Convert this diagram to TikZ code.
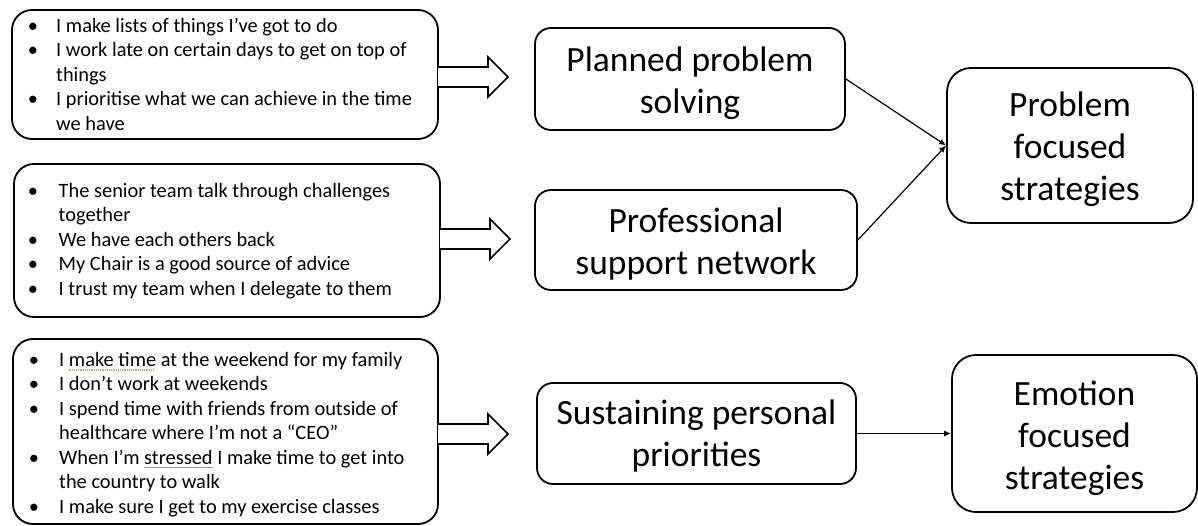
\documentclass[tikz,border=0pt]{standalone}
\usepackage{fontspec}
\setmainfont{Carlito}
\usetikzlibrary{arrows.meta,calc}
\definecolor{spellgold}{RGB}{205,165,80}
\definecolor{spellblue}{RGB}{120,150,225}
\newcommand\mysolidul[2]{\setbox0=\hbox{#2}\rlap{\color{#1}\rule[-4pt]{\wd0}{1.2pt}}\box0\relax}
\newcommand\mydotul[2]{\setbox0=\hbox{#2}\rlap{\color{#1}\hbox to \wd0{\leaders\hbox to 2.2pt{\hss\rule[-4.5pt]{1.2pt}{1.2pt}\hss}\hfill}}\box0\relax}
\begin{document}
\begin{tikzpicture}[x=1pt,y=-1pt,
  lbox/.style={draw, line width=1.8pt, rounded corners=20pt, inner sep=0pt},
  mbox/.style={draw, line width=1.8pt, rounded corners=16pt, inner sep=0pt},
  rbox/.style={draw, line width=1.8pt, rounded corners=24pt, inner sep=0pt},
  btext/.style={inner sep=0pt, align=center, font=\fontsize{35.5}{42}\selectfont},
  ltext/.style={anchor=base west, inner sep=0pt, font=\fontsize{20.4}{24.5}\selectfont},
  bul/.style={anchor=base, inner sep=0pt, font=\fontsize{20.4}{24.5}\selectfont},
  hollow/.style={draw, line width=1.6pt, fill=white, line join=miter},
  conn/.style={draw, line width=1.2pt, -{Latex[length=7pt,width=6pt]}}]
\useasboundingbox (0,0) rectangle (1198,526);

% left boxes
\node[lbox, minimum width=426pt, minimum height=129pt] (l1) at (225,74.5) {};
\node[lbox, minimum width=426pt, minimum height=153pt] (l2) at (227,240.5) {};
\node[lbox, minimum width=425pt, minimum height=185pt] (l3) at (225.5,431.5) {};

% middle boxes
\node[mbox, minimum width=310pt, minimum height=102pt] (m1) at (690,79) {};
\node[mbox, minimum width=322pt, minimum height=100pt] (m2) at (696,240) {};
\node[mbox, minimum width=319pt, minimum height=101pt] (m3) at (696.5,433.5) {};
\node[btext] (m1t) at ($(m1)+(0,4.5)$) {Planned problem\\solving};
\node[btext] (m2t) at ($(m2)+(0,4)$) {Professional\\support network};
\node[btext] (m3t) at ($(m3)+(0,2.5)$) {Sustaining personal\\priorities};

% right boxes
\node[rbox, minimum width=246pt, minimum height=155pt] (r1) at (1070,145.5) {};
\node[rbox, minimum width=245pt, minimum height=157pt] (r2) at (1074.5,433.5) {};
\node[btext] (r1t) at ($(r1)+(0,4)$) {Problem\\focused\\strategies};
\node[btext] (r2t) at ($(r2)+(0,5)$) {Emotion\\focused\\strategies};

% text of box 1
\foreach \i/\yy/\txt in {1/32.5/{I make lists of things I’ve got to do},
  2/57/{I work late on certain days to get on top of},
  3/81.5/{things},
  4/106/{I prioritise what we can achieve in the time},
  5/130.5/{we have}}
  \node[ltext] (l1t\i) at (56,\yy) {\txt};
\foreach \i/\yy in {1/32.5,2/57,3/106}
  \node[bul] (l1b\i) at (33,\yy) {•};

% text of box 2
\foreach \i/\yy/\txt in {1/197.5/{The senior team talk through challenges},
  2/222/{together},
  3/246.5/{We have each others back},
  4/271/{My Chair is a good source of advice},
  5/295.5/{I trust my team when I delegate to them}}
  \node[ltext] (l2t\i) at (58.5,\yy) {\txt};
\foreach \i/\yy in {1/197.5,2/246.5,3/271,4/295.5}
  \node[bul] (l2b\i) at (33,\yy) {•};

% text of box 3
\foreach \i/\yy/\txt in {1/366/{I \mydotul{spellgold}{make time} at the weekend for my family},
  2/390.5/{I don’t work at weekends},
  3/415/{I spend time with friends from outside of},
  4/439.5/{healthcare where I’m not a “CEO”},
  5/464/{When I’m \mysolidul{spellblue}{stressed} I make time to get into},
  6/488.5/{the country to walk},
  7/513/{I make sure I get to my exercise classes}}
  \node[ltext] (l3t\i) at (59,\yy) {\txt};
\foreach \i/\yy in {1/366,2/390.5,3/415,4/464,5/513}
  \node[bul] (l3b\i) at (34,\yy) {•};

% hollow arrows
\coordinate (a1) at (438,77);
\coordinate (a2) at (440,239);
\coordinate (a3) at (438,434);
\foreach \a in {a1,a2,a3}
  \draw[hollow] ($(\a)+(0,-10)$) -- ++(50,0) -- ++(0,-10) -- ++(20,20) -- ++(-20,20) -- ++(0,-10) -- ++(-50,0);

% connectors
\draw[conn] (m1.east) -- (r1.west);
\draw[conn] (m2.east) -- (r1.west);
\draw[conn] (m3.east) -- (r2.west);
\end{tikzpicture}
\end{document}
